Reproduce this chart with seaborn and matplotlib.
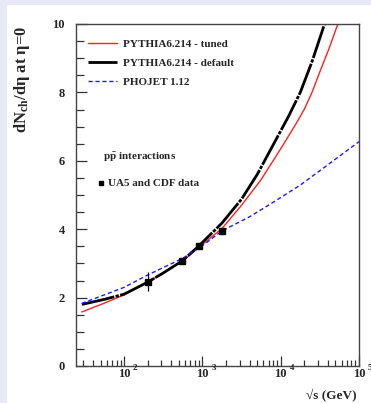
import numpy as np
import pandas as pd
import matplotlib
matplotlib.use("Agg")
import matplotlib.pyplot as plt
import matplotlib.transforms as mtransforms
from matplotlib.patches import Rectangle
import seaborn as sns

# --- data (log10 of sqrt(s) in GeV) ---
tuned_logE = [1.46, 1.75, 2.0, 2.3, 2.74, 2.95, 3.25, 3.5, 3.75, 4.0, 4.2, 4.3, 4.4, 4.5, 4.62, 4.73]
tuned_dndeta = [1.58, 1.84, 2.08, 2.45, 3.05, 3.46, 4.02, 4.70, 5.45, 6.35, 7.10, 7.50, 8.00, 8.60, 9.30, 10.0]

default_logE = [1.46, 1.75, 2.0, 2.3, 2.5, 2.74, 2.95, 3.25, 3.5, 3.7, 3.9, 4.1, 4.25, 4.4, 4.56]
default_dndeta = [1.80, 1.95, 2.10, 2.45, 2.72, 3.07, 3.50, 4.18, 4.88, 5.60, 6.45, 7.30, 8.00, 8.90, 10.0]

phojet_logE = [1.46, 2.0, 2.3, 2.75, 3.0, 3.25, 3.6, 3.9, 4.25, 4.6, 5.0]
phojet_dndeta = [1.83, 2.30, 2.66, 3.15, 3.52, 3.95, 4.36, 4.78, 5.29, 5.88, 6.56]

data_E = [200, 546, 900, 1800]
data_dndeta = [2.47, 3.06, 3.50, 3.95]
data_err = [0.28, 0.05, 0.07, 0.07]

x_decades = [2, 3, 4, 5]

sns.set_style("ticks")
plt.rcParams["font.family"] = ["Liberation Serif", "DejaVu Serif"]
plt.rcParams["font.weight"] = "bold"
plt.rcParams["mathtext.fontset"] = "custom"
plt.rcParams["mathtext.rm"] = "Liberation Serif:bold"
plt.rcParams["mathtext.it"] = "Liberation Serif:bold"
plt.rcParams["mathtext.bf"] = "Liberation Serif:bold"

fig = plt.figure(figsize=(3.71, 4.03), dpi=100)
fig.patch.set_facecolor("#e8e8f6")
fig.patches.append(Rectangle((7 / 371, 0), 1, 1 - 5 / 403, transform=fig.transFigure,
                             facecolor="white", edgecolor="none", zorder=-10))

ax = fig.add_axes([76 / 371, 37 / 403, 283 / 371, 342 / 403])
ax.set_facecolor("none")

curves = [
    ("PYTHIA6.214 - tuned", tuned_logE, tuned_dndeta),
    ("PYTHIA6.214 - default", default_logE, default_dndeta),
    ("PHOJET 1.12", phojet_logE, phojet_dndeta),
]
frames = []
for name, le, v in curves:
    frames.append(pd.DataFrame({"model": name, "sqrt_s": 10 ** np.array(le), "dndeta": v}))
df = pd.concat(frames, ignore_index=True)

palette = {"PYTHIA6.214 - tuned": "#ff2020",
           "PYTHIA6.214 - default": "black",
           "PHOJET 1.12": "#1a1aff"}
dashes = {"PYTHIA6.214 - tuned": "",
          "PYTHIA6.214 - default": (12, 0.5, 1.2, 0.5),
          "PHOJET 1.12": (3, 2)}
sns.lineplot(data=df, x="sqrt_s", y="dndeta", hue="model", style="model",
             palette=palette, dashes=dashes, size="model",
             sizes={"PYTHIA6.214 - tuned": 1.0, "PYTHIA6.214 - default": 2.0,
                    "PHOJET 1.12": 1.0},
             sort=False, ax=ax)

ax.errorbar(data_E, data_dndeta, yerr=data_err, fmt="s", color="black",
            ms=4, elinewidth=0.9, capsize=0, zorder=5)

ax.set_xscale("log")
ax.set_xlim(24.3, 1e5)
ax.set_ylim(0, 10)
ax.set_yticks([0, 2, 4, 6, 8, 10])
ax.set_yticks(np.arange(0, 10.01, 0.5), minor=True)
ax.set_yticklabels(["0", "2", "4", "6", "8", "10"], fontsize=9, fontweight="bold")
ax.set_xticks([10 ** d for d in x_decades])
ax.set_xticklabels([])
ax.tick_params(axis="both", which="both", direction="in", top=False, right=False,
               color="#333333", width=0.9)
ax.tick_params(axis="y", which="major", length=8, pad=8)
ax.tick_params(axis="y", which="minor", length=6)
ax.tick_params(axis="x", which="major", length=7)
ax.tick_params(axis="x", which="minor", length=4)
for s in ax.spines.values():
    s.set_color("#444444")
    s.set_linewidth(1.0)

trans = mtransforms.blended_transform_factory(ax.transData, ax.transAxes)
for d in x_decades:
    ax.text(10 ** d, -0.006, "10", transform=trans, ha="center", va="top",
            fontsize=9, fontweight="bold")
    ax.text(10 ** d * 1.3, 0.006, str(d), transform=trans, ha="left", va="top",
            fontsize=6.5, fontweight="bold")

ax.set_xlabel("")
ax.set_ylabel("")
fig.text(357 / 371, 1 - 396 / 403, "\u221as (GeV)", ha="right", va="center",
         fontsize=9.5, fontweight="bold")
fig.text(22 / 371, 1 - 79 / 403, "dN$_{\\rm ch}$/d\u03b7 at \u03b7=0", rotation=90,
         ha="center", va="center", fontsize=12, fontweight="bold")

leg = ax.legend(loc="upper left", bbox_to_anchor=(0.042, 0.956), frameon=False,
                fontsize=8, handlelength=2.6, handletextpad=0.55, labelspacing=0.82,
                borderpad=0, borderaxespad=0)
for t in leg.get_texts():
    t.set_fontweight("bold")

ax.text(0.095, 0.611, "p$\\bar{\\rm p}$ interactions", transform=ax.transAxes,
        fontsize=8, fontweight="bold", va="center")
ax.plot([0.088], [0.535], "s", color="black", ms=3.5, transform=ax.transAxes)
ax.text(0.113, 0.535, "UA5 and CDF data", transform=ax.transAxes,
        fontsize=8, fontweight="bold", va="center")

fig.savefig("out.png", dpi=100)
